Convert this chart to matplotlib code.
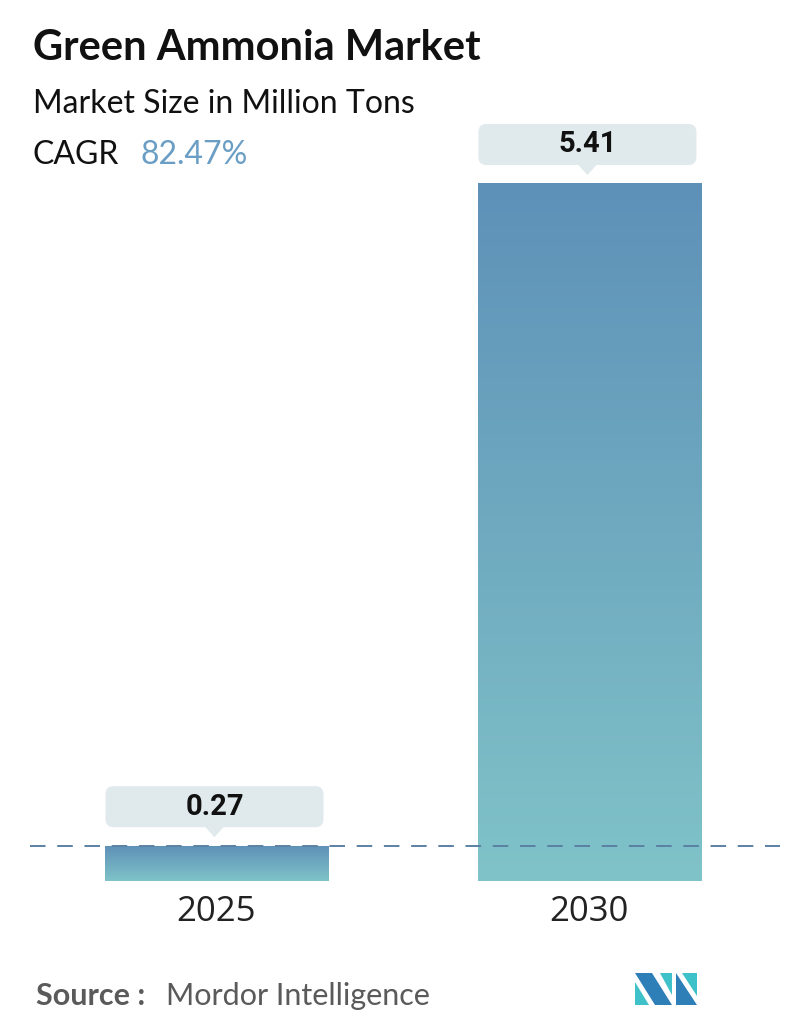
import numpy as np
import matplotlib.pyplot as plt
import matplotlib.transforms as mtransforms
from matplotlib.colors import LinearSegmentedColormap
from matplotlib.patches import FancyBboxPatch, Polygon

years = ['2025', '2030']
values = [0.27, 5.41]
value_labels = ['0.27', '5.41']
cagr = '82.47%'

W, H = 796, 1034
fig = plt.figure(figsize=(W / 100, H / 100), dpi=100)
fig.patch.set_facecolor('white')


def fy(px):
    return 1 - px / H


# axes: x from 30px to 780px, y bottom at 881px, ylim 0..6
bottom_px = 881
ymax = 6.0
top_px = bottom_px - ymax / 5.41 * 697
ax = fig.add_axes([30 / W, fy(bottom_px), 750 / W, (bottom_px - top_px) / H])
ax.set_xlim(-0.5, 1.511)
ax.set_ylim(0, ymax)
for s in ax.spines.values():
    s.set_visible(False)
ax.set_yticks([])

bar_w = 0.598
cmap = LinearSegmentedColormap.from_list('bar', ['#80c3c8', '#5e91b8'])
grad = np.linspace(0, 1, 256).reshape(-1, 1)
for i, v in enumerate(values):
    ax.imshow(grad, cmap=cmap, origin='lower', aspect='auto',
              extent=[i - bar_w / 2, i + bar_w / 2, 0, v], zorder=2)

ax.axhline(values[0], color='#5b81a3', lw=1.4, dashes=(8, 6), zorder=3)

ax.set_xticks(range(len(years)))
ax.set_xticklabels(years, fontsize=25, color='#222222', family='Open Sans')
ax.tick_params(axis='x', length=0, pad=10)

# value callouts
for i, (v, lab) in enumerate(zip(values, value_labels)):
    off = mtransforms.ScaledTranslation(i, v, ax.transData)
    tr = fig.dpi_scale_trans + off
    bw, bh = 2.18, 0.41
    x0 = -bw / 2 - 0.02
    y0 = 0.19
    box = FancyBboxPatch((x0, y0), bw, bh, boxstyle='round,pad=0,rounding_size=0.08',
                         transform=tr, fc='#e0e9eb', ec='none', zorder=4, clip_on=False)
    ax.add_patch(box)
    tri = Polygon([(-0.12, y0 + 0.01), (0.08, y0 + 0.01), (-0.02, 0.09)], closed=True,
                  transform=tr, fc='#e0e9eb', ec='none', zorder=4, clip_on=False)
    ax.add_patch(tri)
    ax.text(-0.02, y0 + bh / 2, lab, transform=tr, ha='center', va='center',
            fontsize=21, fontweight='bold', color='#111111', family='Roboto',
            zorder=5, clip_on=False)

# titles
fig.text(33 / W, fy(60), 'Green Ammonia Market', fontsize=30, fontweight='bold',
         color='#111111', family='Lato', va='baseline')
fig.text(33 / W, fy(113), 'Market Size in Million Tons', fontsize=23,
         color='#111111', family='Lato', va='baseline')
fig.text(33 / W, fy(164), 'CAGR', fontsize=23, color='#111111', family='Lato', va='baseline')
fig.text(140 / W, fy(164), cagr, fontsize=23, color='#6a9ec5', family='Lato', va='baseline')

# source
fig.text(36 / W, fy(1005), 'Source :', fontsize=22, fontweight='bold',
         color='#5a5a5a', family='Lato', va='baseline')
fig.text(166 / W, fy(1005), 'Mordor Intelligence', fontsize=22,
         color='#5a5a5a', family='Lato', va='baseline')

# logo
def pix(pts):
    return [(x / W, fy(y)) for x, y in pts]

logo = [
    ([(635, 982), (649, 1005), (635, 1005)], '#3fc1c9'),
    ([(635, 973), (652, 973), (672, 1005), (655, 1005)], '#2e7fb8'),
    ([(660, 973), (672, 973), (672, 995)], '#3fc1c9'),
    ([(676, 973), (697, 1005), (676, 1005)], '#2e7fb8'),
    ([(682, 973), (697, 973), (697, 996)], '#3fc1c9'),
]
for pts, c in logo:
    fig.add_artist(Polygon(pix(pts), closed=True, fc=c, ec='none',
                           transform=fig.transFigure))

fig.savefig('out.png', dpi=100)
